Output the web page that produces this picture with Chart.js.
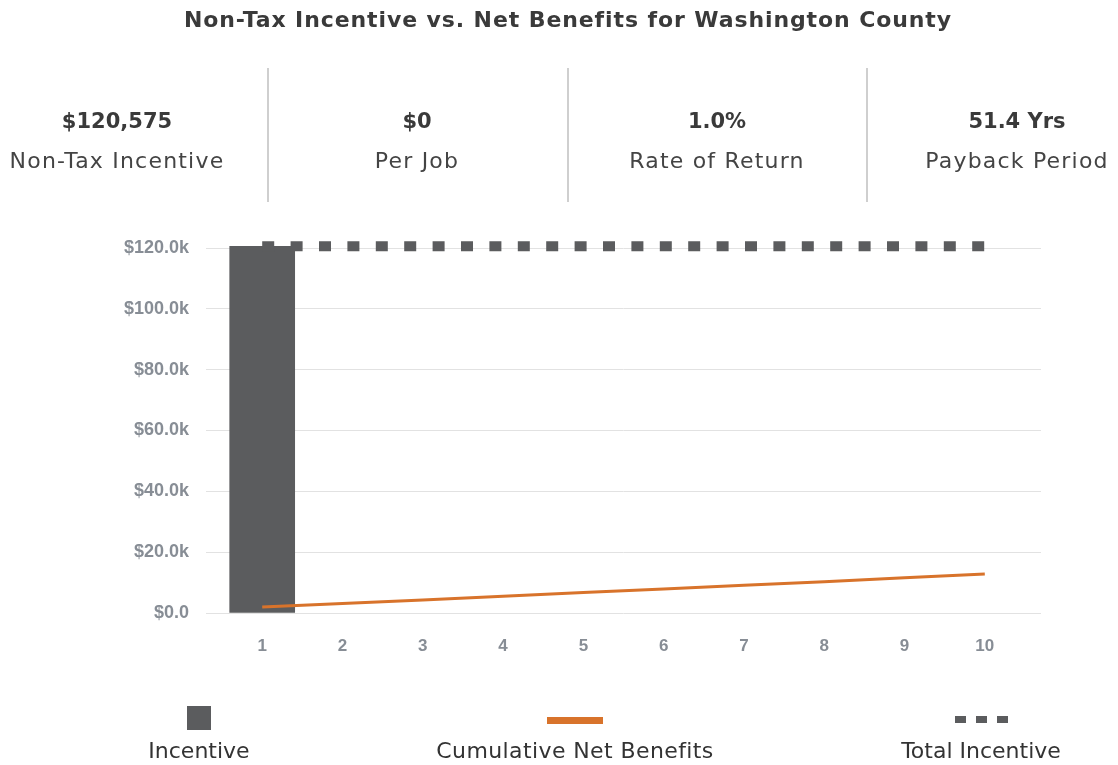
<!DOCTYPE html>
<html>
<head>
<meta charset="utf-8">
<script src="https://cdn.jsdelivr.net/npm/chart.js@4"></script>
<style>
  html, body { margin: 0; padding: 0; background: #fff; }
  body { width: 1118px; height: 765px; position: relative; overflow: hidden; font-family: "DejaVu Sans", sans-serif; color: #333; }
  #title { position: absolute; top: 5px; left: 0; width: 1136px; text-align: center; font-size: 22px; font-weight: 700; color: #3a3a3a; line-height: 30px; letter-spacing: 0.9px; }
  .stat { position: absolute; top: 68px; width: 300px; height: 134px; text-align: center; white-space: nowrap; }
  .stat .v { position: absolute; top: 38px; width: 100%; font-size: 21px; font-weight: 700; color: #3a3a3a; line-height: 30px; }
  .stat .l { position: absolute; top: 78px; width: 100%; font-size: 22px; font-weight: 400; color: #444; line-height: 30px; letter-spacing: 1.2px; }
  .div { position: absolute; top: 68px; width: 2px; height: 134px; background: #cfcfcf; }
  #chartWrap { position: absolute; left: 0; top: 0; width: 1118px; height: 765px; }
  .leg { position: absolute; top: 700px; width: 400px; text-align: center; white-space: nowrap; }
  .leg .t { position: absolute; top: 37px; width: 100%; font-size: 22px; color: #333; line-height: 28px; }
  .leg.wide .t { letter-spacing: 0.4px; }
  .sym { position: absolute; }
</style>
</head>
<body>
<div id="chartWrap"><canvas id="c" width="1118" height="765"></canvas></div>
<div id="title">Non-Tax Incentive vs. Net Benefits for Washington County</div>
<div id="stats"></div>
<div id="legend"></div>
<script>
const years = [1, 2, 3, 4, 5, 6, 7, 8, 9, 10];
const incentive = [120575, null, null, null, null, null, null, null, null, null];
const cumulativeNetBenefits = [1970, 3150, 4300, 5500, 6700, 7900, 9100, 10300, 11550, 12800];
const totalIncentive = [120575, 120575, 120575, 120575, 120575, 120575, 120575, 120575, 120575, 120575];
const yTicks = [0, 20000, 40000, 60000, 80000, 100000, 120000];
const statValues = ["$120,575", "$0", "1.0%", "51.4 Yrs"];
const statLabels = ["Non-Tax Incentive", "Per Job", "Rate of Return", "Payback Period"];
const legendLabels = ["Incentive", "Cumulative Net Benefits", "Total Incentive"];

const GREY = "#5b5c5e";
const ORANGE = "#d8732b";

// stats row
const statCenters = [117, 417, 717, 1017];
const statsEl = document.getElementById("stats");
statValues.forEach((v, i) => {
  const d = document.createElement("div");
  d.className = "stat";
  d.style.left = (statCenters[i] - 150) + "px";
  d.innerHTML = '<div class="v"></div><div class="l"></div>';
  d.querySelector(".v").textContent = v;
  d.querySelector(".l").textContent = statLabels[i];
  statsEl.appendChild(d);
});
[267, 567, 866].forEach(x => {
  const d = document.createElement("div");
  d.className = "div";
  d.style.left = x + "px";
  statsEl.appendChild(d);
});

// legend
const legCenters = [199, 575, 981];
const legEl = document.getElementById("legend");
legendLabels.forEach((t, i) => {
  const d = document.createElement("div");
  d.className = "leg" + (i === 1 ? " wide" : "");
  d.style.left = (legCenters[i] - 200) + "px";
  const s = document.createElement("div");
  s.className = "t";
  s.textContent = t;
  d.appendChild(s);
  legEl.appendChild(d);
});
function sym(x, y, w, h, c) {
  const e = document.createElement("div");
  e.className = "sym";
  e.style.cssText = `left:${x}px;top:${y}px;width:${w}px;height:${h}px;background:${c};`;
  legEl.appendChild(e);
}
sym(187, 706, 24, 24, GREY);
sym(547, 717, 56, 7, ORANGE);
sym(955, 716, 11, 7, GREY);
sym(976, 716, 11, 7, GREY);
sym(997, 716, 11, 7, GREY);

const ctx = document.getElementById("c").getContext("2d");
new Chart(ctx, {
  data: {
    datasets: [
      {
        type: "line",
        label: legendLabels[2],
        data: years.map((x, i) => ({ x: x, y: totalIncentive[i] })),
        borderColor: GREY,
        borderWidth: 10,
        borderDash: [12, 16.4],
        borderCapStyle: "butt",
        pointRadius: 0,
        fill: false,
        clip: false,
        order: 0
      },
      {
        type: "line",
        label: legendLabels[1],
        data: years.map((x, i) => ({ x: x, y: cumulativeNetBenefits[i] })),
        borderColor: ORANGE,
        borderWidth: 3,
        pointRadius: 0,
        tension: 0,
        fill: false,
        clip: false,
        order: 1
      },
      {
        type: "bar",
        label: legendLabels[0],
        data: years.map((x, i) => ({ x: x, y: incentive[i] })),
        backgroundColor: GREY,
        borderWidth: 0,
        barThickness: 65,
        clip: false,
        order: 2
      }
    ]
  },
  options: {
    responsive: false,
    animation: false,
    layout: { padding: { left: 0, right: 77, top: 248, bottom: 0 } },
    plugins: { legend: { display: false }, tooltip: { enabled: false } },
    scales: {
      x: {
        type: "linear",
        offset: false,
        min: 0.3,
        max: 10.7,
        grid: { display: false, drawTicks: false },
        border: { display: false },
        afterBuildTicks: (axis) => { axis.ticks = years.map(v => ({ value: v })); },
        afterFit: (axis) => { axis.height = 152; },
        ticks: {
          autoSkip: false,
          maxRotation: 0,
          padding: 23,
          color: "#878d95",
          font: { family: "Liberation Sans", size: 17, weight: "bold" },
          callback: (v) => String(v)
        }
      },
      y: {
        min: 0,
        max: 120000,
        afterBuildTicks: (axis) => { axis.ticks = yTicks.map(v => ({ value: v })); },
        afterFit: (axis) => { axis.width = 206; },
        grid: { color: "#e2e2e2", lineWidth: 1, drawTicks: false },
        border: { display: false },
        ticks: {
          padding: 17,
          color: "#878d95",
          font: { family: "Liberation Sans", size: 18, weight: "bold" },
          callback: (v) => v === 0 ? "$0.0" : "$" + (v / 1000).toFixed(1) + "k"
        }
      }
    }
  }
});
</script>
</body>
</html>
